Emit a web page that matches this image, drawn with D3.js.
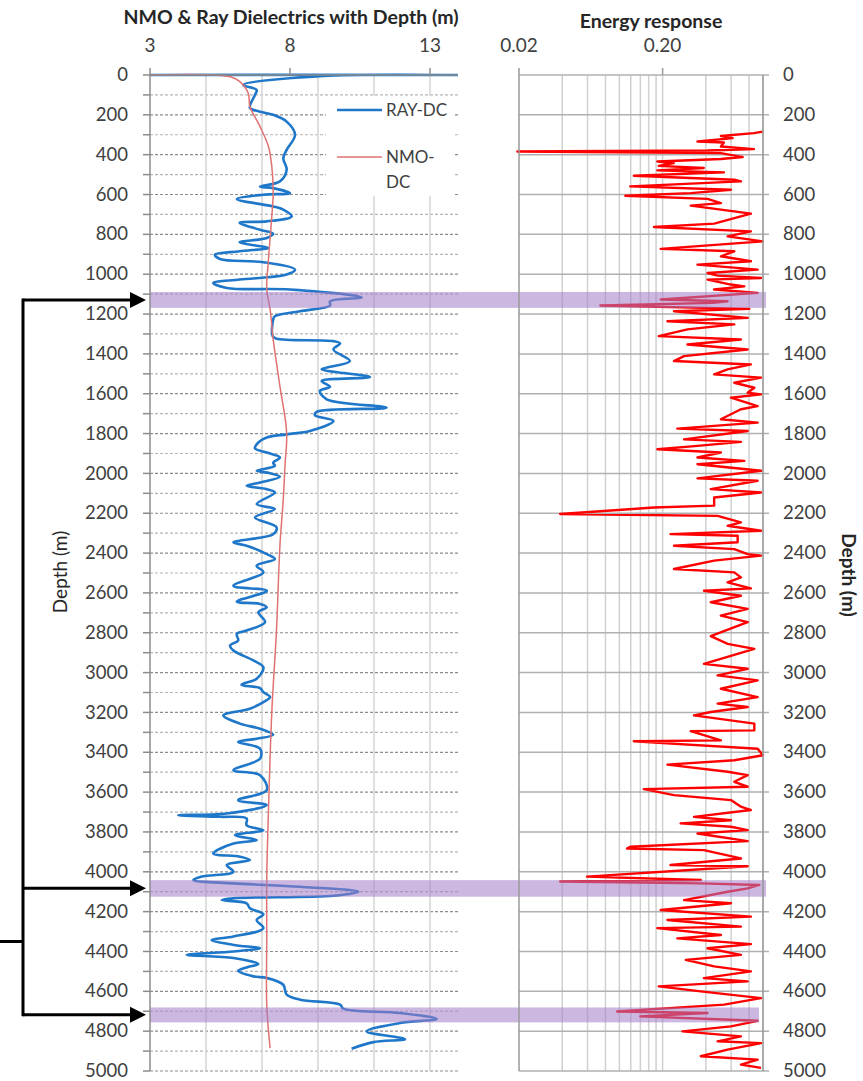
<!DOCTYPE html>
<html>
<head>
<meta charset="utf-8">
<script src="https://cdn.jsdelivr.net/npm/d3@7"></script>
<style>
  body { margin: 0; background: #fff; }
</style>
</head>
<body>
<div id="chart"></div>
<script>
// depth (m) / value pairs
const rayDepth = [0,0,5,50,75,100,165,184,200,234,300,376,417,476,534,560,568,593,601,623,660,676,710,735,742,777,797,818,840,857,868,885,902,924,940,977,1002,1027,1044,1069,1077,1116,1136,1157,1186,1211,1227,1311,1324,1336,1348,1378,1436,1469,1478,1516,1536,1565,1586,1628,1670,1691,1708,1737,1787,1804,1820,1854,1875,1895,1920,1946,1962,1987,1999,2017,2042,2062,2079,2096,2154,2179,2221,2271,2305,2346,2363,2405,2430,2463,2497,2564,2589,2644,2655,2672,2697,2747,2789,2806,2839,2864,2889,2939,2973,3031,3061,3078,3098,3123,3148,3181,3215,3256,3282,3312,3332,3348,3382,3432,3490,3515,3590,3640,3665,3707,3716,3724,3732,3766,3791,3816,3841,3858,3908,3924,3941,3966,4000,4024,4041,4058,4075,4100,4120,4133,4142,4158,4183,4213,4242,4283,4325,4342,4367,4384,4400,4417,4433,4463,4480,4497,4525,4533,4567,4617,4642,4667,4687,4709,4739,4759,4801,4840,4855,4888];
const rayDC = [3,14,9.2,6.33,6.81,6.75,6.57,6.93,7.4,7.88,8.18,7.88,7.76,7.88,7.64,6.93,7.4,8.0,7.04,6.1,7.4,7.76,8.06,7.17,6.2,6.93,7.4,7.17,6.2,6.81,7.23,6.2,5.32,5.5,7.05,8.18,7.88,6.2,5.26,5.74,8.0,10.56,9.43,9.43,8.36,7.46,7.4,7.38,7.52,9.55,9.79,9.55,10.14,9.31,9.13,10.86,9.13,9.43,9.07,9.31,11.45,8.95,8.89,9.55,8.71,7.88,7.17,6.81,6.75,7.17,7.64,7.4,7.46,6.81,7.29,7.64,7.05,6.45,7.17,7.46,6.81,7.46,6.75,7.52,7.4,5.98,6.45,7.17,7.46,6.81,7.05,5.98,7.17,6.1,6.93,7.17,6.87,7.11,6.45,6.1,6.15,5.86,5.98,6.69,7.05,6.81,6.27,6.93,7.05,7.29,7.05,6.57,5.62,6.21,6.93,7.4,6.81,6.15,6.93,6.93,5.98,6.93,7.17,6.15,7.17,5.74,4.01,5.5,6.45,6.45,7.05,6.04,6.81,5.98,5.26,6.21,6.57,5.74,5.98,4.85,4.55,5.98,8.36,10.44,9.55,5.98,5.56,6.45,6.57,7.05,6.81,7.05,5.98,5.2,5.98,6.93,5.98,4.31,5.98,6.87,6.45,6.15,6.69,7.17,7.76,7.88,8.36,9.79,9.9,11.93,13.24,11.93,10.74,12.11,10.98,10.2];

const nmoDepth = [0,0,10,33,92,159,259,359,459,593,710,927,1077,1177,1328,1562,1796,1962,2129,2363,2781,3198,3699,4033,4334,4668,4885];
const nmoDC = [3,5.3,5.9,6.21,6.51,6.57,6.93,7.23,7.35,7.4,7.35,7.23,7.17,7.29,7.4,7.64,7.88,7.82,7.76,7.64,7.52,7.35,7.23,7.17,7.17,7.17,7.29];

const energyDepth = [284,292,306,317,334,339,359,372,379,384,392,412,422,434,442,456,467,479,489,506,526,534,559,576,593,606,622,643,656,676,696,746,763,785,810,835,873,885,910,935,952,977,994,1007,1019,1027,1052,1061,1077,1094,1127,1136,1144,1157,1174,1186,1219,1236,1252,1277,1311,1328,1353,1378,1411,1436,1453,1478,1503,1519,1545,1570,1595,1603,1620,1662,1678,1728,1745,1775,1787,1829,1842,1862,1879,1895,1920,1937,1954,1987,2025,2037,2079,2096,2121,2162,2171,2204,2213,2246,2263,2288,2305,2313,2346,2363,2380,2405,2413,2438,2480,2497,2522,2547,2577,2589,2614,2647,2680,2714,2747,2817,2856,2881,2956,2981,3014,3039,3081,3123,3156,3173,3198,3215,3256,3290,3294,3340,3345,3382,3415,3440,3462,3498,3515,3548,3573,3585,3615,3640,3673,3690,3724,3741,3757,3774,3791,3808,3846,3874,3883,3891,3933,3966,3972,4024,4041,4049,4058,4066,4083,4100,4142,4158,4192,4225,4242,4275,4283,4317,4334,4363,4384,4417,4442,4475,4500,4534,4550,4575,4600,4634,4667,4701,4709,4726,4748,4776,4801,4826,4851,4860,4893,4926,4943,4968,4984];
const energy = [0.996,0.865,0.509,0.614,0.35,0.534,0.509,0.865,0.411,0.0195,0.509,0.722,0.509,0.184,0.239,0.188,0.387,0.184,0.534,0.126,0.631,0.702,0.119,0.598,0.314,0.11,0.411,0.509,0.314,0.509,0.824,0.457,0.174,0.824,0.567,0.996,0.194,0.631,0.509,0.824,0.35,0.918,0.411,0.483,0.969,0.411,0.598,0.741,0.457,0.918,0.194,0.567,0.45,0.0737,0.803,0.24,0.782,0.216,0.631,0.298,0.188,0.702,0.298,0.782,0.282,0.24,0.824,0.567,0.457,0.969,0.631,0.87,0.782,0.969,0.598,0.918,0.702,0.509,0.918,0.253,0.782,0.282,0.702,0.35,0.184,0.509,0.35,0.741,0.35,0.969,0.35,0.918,0.433,0.969,0.457,0.457,0.174,0.0387,0.483,0.702,0.567,0.969,0.227,0.666,0.666,0.24,0.631,0.782,0.969,0.457,0.24,0.631,0.702,0.567,0.824,0.388,0.702,0.433,0.782,0.509,0.782,0.433,0.567,0.87,0.388,0.782,0.483,0.918,0.509,0.918,0.483,0.782,0.433,0.331,0.87,0.87,0.314,0.509,0.126,0.918,1.0,0.631,0.216,0.567,0.782,0.631,0.782,0.148,0.24,0.598,0.702,0.824,0.331,0.598,0.267,0.598,0.782,0.35,0.782,0.119,0.113,0.388,0.702,0.227,0.782,0.0595,0.369,0.0387,0.369,0.943,0.782,0.567,0.282,0.598,0.194,0.824,0.216,0.702,0.184,0.509,0.253,0.824,0.411,0.702,0.29,0.457,0.824,0.388,0.782,0.188,0.369,0.969,0.536,0.0964,0.411,0.14,0.918,0.598,0.275,0.702,0.483,0.969,0.567,0.369,0.918,0.702,0.969];

// highlighted depth intervals and where the bracket arrows point
const bandTop = [1089, 4042, 4681];
const bandBottom = [1169, 4125, 4756];
const arrowDepth = [1129, 4083, 4718];
const bracketDepth = 4350;

const depthTicks = d3.range(0, 5001, 200);
const depthMinor = d3.range(0, 5001, 100);
const dcTicks = [3, 8, 13];
const dcGrid = [5, 7, 9, 11, 13];
const energyTicks = [0.02, 0.2];
const energyGrid = [0.04,0.06,0.08,0.1,0.12,0.14,0.16,0.18,0.2,0.4,0.6,0.8,1.0];

const width = 863;
const height = 1081;
const font = "Lato, 'Open Sans', sans-serif";
const textCol = "#404040";

const y = d3.scaleLinear().domain([0, 5000]).range([75, 1071]);
const xL = d3.scaleLinear().domain([3, 14]).range([150, 458]);
const xR = d3.scaleLog().domain([0.02, 1]).range([519, 763]);

const svg = d3.create("svg").attr("width", width).attr("height", height)
  .style("font-family", font);

svg.append("defs").append("clipPath").attr("id", "clipL")
  .append("rect").attr("x", 150).attr("y", 70).attr("width", 308).attr("height", 1010);

// ---- left panel grid
const gL = svg.append("g");
gL.selectAll(".hg").data(depthMinor.filter(d => d > 0)).join("line")
  .attr("x1", 150).attr("x2", 458)
  .attr("y1", d => y(d)).attr("y2", d => y(d))
  .attr("stroke", d => d % 200 === 0 ? "#8c8c8c" : "#b5b5b5")
  .attr("stroke-width", 1.2)
  .attr("stroke-dasharray", "3,2");
gL.selectAll(".vg").data(dcGrid).join("line")
  .attr("x1", d => xL(d)).attr("x2", d => xL(d))
  .attr("y1", 75).attr("y2", y(5000))
  .attr("stroke", "#d4d4d4").attr("stroke-width", 1.5);

// legend background hides the grid behind it
svg.append("rect").attr("x", 326).attr("y", 96).attr("width", 129).attr("height", 100)
  .attr("fill", "#fff");

// ---- right panel grid
const gR = svg.append("g");
gR.selectAll(".vg").data(energyGrid).join("line")
  .attr("x1", d => xR(d)).attr("x2", d => xR(d))
  .attr("y1", 75).attr("y2", y(5000))
  .attr("stroke", "#d0d0d0").attr("stroke-width", 1.5);
gR.selectAll(".hg").data(depthTicks).join("line")
  .attr("x1", 519).attr("x2", 769)
  .attr("y1", d => y(d)).attr("y2", d => y(d))
  .attr("stroke", "#b0b0b0").attr("stroke-width", 1.5);

// ---- series
const ray = rayDepth.map((d, i) => [d, rayDC[i]]);
const nmo = nmoDepth.map((d, i) => [d, nmoDC[i]]);
const en = energyDepth.map((d, i) => [d, energy[i]]);

svg.append("path").datum(ray)
  .attr("clip-path", "url(#clipL)")
  .attr("fill", "none").attr("stroke", "#1f77c9").attr("stroke-width", 2.6)
  .attr("d", d3.line().x(d => xL(d[1])).y(d => y(d[0])).curve(d3.curveCatmullRom.alpha(0.5)));

svg.append("path").datum(nmo)
  .attr("clip-path", "url(#clipL)")
  .attr("fill", "none").attr("stroke", "#e07272").attr("stroke-width", 1.5)
  .attr("d", d3.line().x(d => xL(d[1])).y(d => y(d[0])).curve(d3.curveCatmullRom.alpha(0.5)));

svg.append("path").datum(en)
  .attr("fill", "none").attr("stroke", "#ff0000").attr("stroke-width", 2.4)
  .attr("stroke-linejoin", "round")
  .attr("d", d3.line().x(d => xR(Math.max(d[1], 0.0195))).y(d => y(d[0])));

// ---- highlight bands
svg.selectAll(".band").data(bandTop).join("rect")
  .attr("x", 150)
  .attr("width", (d, i) => i === 2 ? 609 : 616)
  .attr("y", d => y(d))
  .attr("height", (d, i) => y(bandBottom[i]) - y(d))
  .attr("fill", "#a07cc5").attr("opacity", 0.55);

// ---- axes lines & ticks
svg.append("line").attr("x1", 150).attr("x2", 150).attr("y1", 75).attr("y2", y(5000))
  .attr("stroke", "#8c8c8c").attr("stroke-width", 1.5);
svg.append("line").attr("x1", 150).attr("x2", 458).attr("y1", 75).attr("y2", 75)
  .attr("stroke", "#8c8c8c").attr("stroke-width", 1.5);
svg.selectAll(".tl").data(depthMinor).join("line")
  .attr("x1", 143).attr("x2", 150)
  .attr("y1", d => y(d)).attr("y2", d => y(d))
  .attr("stroke", "#8c8c8c").attr("stroke-width", 1.5);
svg.selectAll(".tt").data(dcTicks).join("line")
  .attr("x1", d => xL(d)).attr("x2", d => xL(d))
  .attr("y1", 68).attr("y2", 75)
  .attr("stroke", "#8c8c8c").attr("stroke-width", 1.5);

svg.append("line").attr("x1", 519).attr("x2", 519).attr("y1", 75).attr("y2", y(5000))
  .attr("stroke", "#9a9a9a").attr("stroke-width", 1.5);
svg.append("line").attr("x1", 763).attr("x2", 763).attr("y1", 75).attr("y2", y(5000))
  .attr("stroke", "#9a9a9a").attr("stroke-width", 1.5);
svg.selectAll(".ttr").data(energyTicks).join("line")
  .attr("x1", d => xR(d)).attr("x2", d => xR(d))
  .attr("y1", 68).attr("y2", 75)
  .attr("stroke", "#9a9a9a").attr("stroke-width", 1.5);

// ---- tick labels
svg.selectAll(".ly").data(depthTicks).join("text")
  .attr("x", 128).attr("y", d => y(d)).attr("dy", "0.33em")
  .attr("text-anchor", "end").attr("font-size", 18.5).attr("fill", textCol)
  .text(d => d);
svg.selectAll(".ry").data(depthTicks).join("text")
  .attr("x", 783).attr("y", d => y(d)).attr("dy", "0.33em")
  .attr("text-anchor", "start").attr("font-size", 18.5).attr("fill", textCol)
  .text(d => d);
svg.selectAll(".lx").data(dcTicks).join("text")
  .attr("x", d => xL(d)).attr("y", 52)
  .attr("text-anchor", "middle").attr("font-size", 19).attr("fill", textCol)
  .text(d => d);
svg.selectAll(".rx").data(energyTicks).join("text")
  .attr("x", d => xR(d)).attr("y", 52)
  .attr("text-anchor", "middle").attr("font-size", 19).attr("fill", textCol)
  .text(d => d3.format(".2f")(d));

// ---- titles
svg.append("text").attr("x", 291).attr("y", 24)
  .attr("text-anchor", "middle").attr("font-size", 19.5).attr("font-weight", "bold")
  .attr("fill", "#262626").text("NMO & Ray Dielectrics with Depth (m)");
svg.append("text").attr("x", 651).attr("y", 28)
  .attr("text-anchor", "middle").attr("font-size", 19.5).attr("font-weight", "bold")
  .attr("fill", "#262626").text("Energy response");
svg.append("text").attr("transform", "translate(67,572) rotate(-90)")
  .attr("text-anchor", "middle").attr("font-size", 19).attr("fill", "#262626")
  .text("Depth (m)");
svg.append("text").attr("transform", "translate(842,575) rotate(90)")
  .attr("text-anchor", "middle").attr("font-size", 19).attr("font-weight", "bold")
  .attr("fill", "#262626").text("Depth (m)");

// ---- legend
const leg = svg.append("g");
leg.append("line").attr("x1", 337).attr("x2", 382).attr("y1", 110).attr("y2", 110)
  .attr("stroke", "#1f77c9").attr("stroke-width", 2.6);
leg.append("text").attr("x", 386).attr("y", 110).attr("dy", "0.35em")
  .attr("font-size", 17).attr("fill", textCol).text("RAY-DC");
leg.append("line").attr("x1", 337).attr("x2", 382).attr("y1", 157).attr("y2", 157)
  .attr("stroke", "#e07272").attr("stroke-width", 1.5);
leg.append("text").attr("x", 386).attr("y", 157).attr("dy", "0.35em")
  .attr("font-size", 17).attr("fill", textCol).text("NMO-");
leg.append("text").attr("x", 386).attr("y", 182).attr("dy", "0.35em")
  .attr("font-size", 17).attr("fill", textCol).text("DC");

// ---- bracket arrows
const ar = svg.append("g").attr("stroke", "#000").attr("stroke-width", 3);
ar.append("line").attr("x1", 23).attr("x2", 23)
  .attr("y1", y(arrowDepth[0]) - 1.5).attr("y2", y(arrowDepth[2]) + 1.5);
ar.append("line").attr("x1", 0).attr("x2", 23)
  .attr("y1", y(bracketDepth)).attr("y2", y(bracketDepth));
ar.selectAll(".arl").data(arrowDepth).join("line")
  .attr("x1", 23).attr("x2", 132)
  .attr("y1", d => y(d)).attr("y2", d => y(d));
svg.selectAll(".arh").data(arrowDepth).join("path")
  .attr("d", d => `M130,${y(d) - 8}L146,${y(d)}L130,${y(d) + 8}Z`)
  .attr("fill", "#000");

d3.select("#chart").node().appendChild(svg.node());
</script>
</body>
</html>
